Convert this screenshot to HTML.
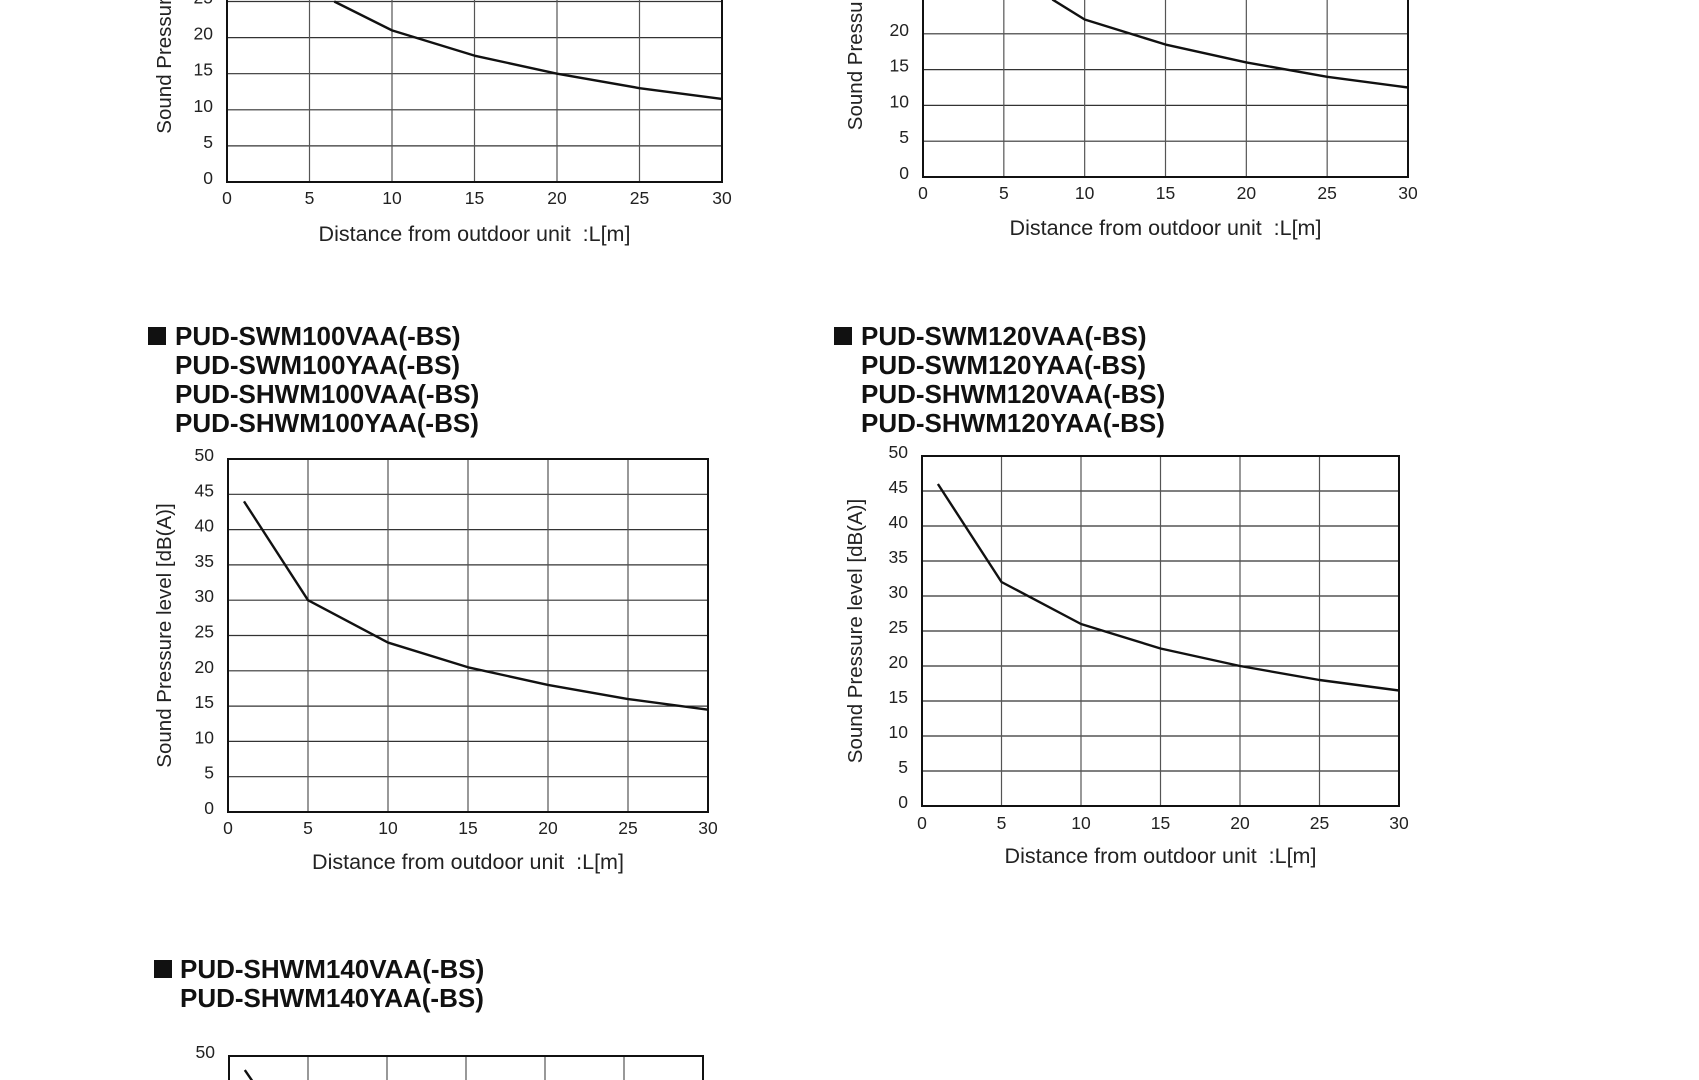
<!DOCTYPE html>
<html><head><meta charset="utf-8"><style>
html,body{margin:0;padding:0;background:#fff;width:1699px;height:1080px;overflow:hidden;}
svg{display:block;font-family:"Liberation Sans",Arial,sans-serif;overflow:hidden;}
.title{font-weight:bold;font-size:26px;fill:#111;}
.tick{font-size:17.5px;fill:#222;}
.axt{font-size:21.5px;fill:#222;white-space:pre;}
.ayt{font-size:20.5px;fill:#222;}
</style></head><body>
<svg id="page" width="1699" height="1080" viewBox="0 0 1699 1080" xmlns="http://www.w3.org/2000/svg"></svg>
<script>
const xTicks = [0,5,10,15,20,25,30];
const yTicks = [0,5,10,15,20,25,30,35,40,45,50];
const distA = [6.5,10,15,20,25,30];
const splA = [25,21,17.5,15,13,11.5];
const distB = [8,10,15,20,25,30];
const splB = [24.8,22,18.5,16,14,12.5];
const distC = [1,5,10,15,20,25,30];
const splC = [44,30,24,20.5,18,16,14.5];
const distD = [1,5,10,15,20,25,30];
const splD = [46,32,26,22.5,20,18,16.5];
const distE = [1,5,10];
const splE = [48,35,28];

const charts = [
  {name:'chart-top-left', x0:227, x1:722, y0:182, y1:-179, dist:distA, spl:splA, xlabY:204, axY:241, yTitleX:171, titles:[], tx:0, ty:0},
  {name:'chart-top-right', x0:923, x1:1408, y0:177, y1:-181, dist:distB, spl:splB, xlabY:199, axY:235, yTitleX:862, titles:[], tx:0, ty:0},
  {name:'chart-swm100', x0:228, x1:708, y0:812, y1:459, dist:distC, spl:splC, xlabY:834, axY:869, yTitleX:171,
    titles:['PUD-SWM100VAA(-BS)','PUD-SWM100YAA(-BS)','PUD-SHWM100VAA(-BS)','PUD-SHWM100YAA(-BS)'], tx:175, ty:345, sq:148},
  {name:'chart-swm120', x0:922, x1:1399, y0:806, y1:456, dist:distD, spl:splD, xlabY:829, axY:863, yTitleX:862,
    titles:['PUD-SWM120VAA(-BS)','PUD-SWM120YAA(-BS)','PUD-SHWM120VAA(-BS)','PUD-SHWM120YAA(-BS)'], tx:861, ty:345, sq:834},
  {name:'chart-shwm140', x0:229, x1:703, y0:1408, y1:1056, dist:distE, spl:splE, xlabY:1430, axY:1464, yTitleX:171,
    titles:['PUD-SHWM140VAA(-BS)','PUD-SHWM140YAA(-BS)'], tx:180, ty:978, sq:154}
];
const NS='http://www.w3.org/2000/svg';
const svg=document.getElementById('page');
function mk(tag,attrs,parent,text){const e=document.createElementNS(NS,tag);for(const k in attrs)e.setAttribute(k,attrs[k]);if(text!==undefined)e.textContent=text;parent.appendChild(e);return e;}

charts.forEach(c=>{
  const g=mk('g',{},svg);
  
  
  const sx=v=>c.x0+(v-0)/(30-0)*(c.x1-c.x0);
  const sy=v=>c.y0+(v-0)/(50-0)*(c.y1-c.y0);
  c.titles.forEach((t,i)=>{
    const tt=mk('text',{x:c.tx,y:c.ty+i*29,class:'title'},g,t);
    
    
  });
  if(c.titles.length){
    const sq=mk('rect',{x:c.sq,y:c.ty-18,width:18,height:18,fill:'#111'},g);
    
    
  }
  yTicks.forEach(v=>{
    if(v===0||v===50) return;
    const l=mk('line',{x1:c.x0,x2:c.x1,y1:sy(v),y2:sy(v),stroke:'#333','stroke-width':1.2},g);
    
    
  });
  xTicks.forEach(v=>{
    if(v===0||v===30) return;
    const l=mk('line',{x1:sx(v),x2:sx(v),y1:c.y0,y2:c.y1,stroke:'#555','stroke-width':1.2},g);
    
    
  });
  const fr=mk('rect',{x:c.x0,y:c.y1,width:c.x1-c.x0,height:c.y0-c.y1,fill:'none',stroke:'#111','stroke-width':2},g);
  
  
  yTicks.forEach(v=>{
    const t=mk('text',{x:c.x0-14,y:sy(v)+2,class:'tick','text-anchor':'end'},g,String(v));
    
    
  });
  xTicks.forEach(v=>{
    const t=mk('text',{x:sx(v),y:c.xlabY,class:'tick','text-anchor':'middle'},g,String(v));
    
    
  });
  const xt=mk('text',{x:(c.x0+c.x1)/2,y:c.axY,class:'axt','text-anchor':'middle'},g,'Distance from outdoor unit  :L[m]');
  
  
  const cy=(c.y0+c.y1)/2;
  const yt=mk('text',{x:c.yTitleX,y:cy,class:'ayt','text-anchor':'middle',transform:`rotate(-90 ${c.yTitleX} ${cy})`},g,'Sound Pressure level [dB(A)]');
  
  
  const pts=c.dist.map((d,i)=>sx(d)+','+sy(c.spl[i])).join(' ');
  const pl=mk('polyline',{points:pts,fill:'none',stroke:'#111','stroke-width':2.4,'stroke-linejoin':'round'},g);
  
  
});
</script>
</body></html>
